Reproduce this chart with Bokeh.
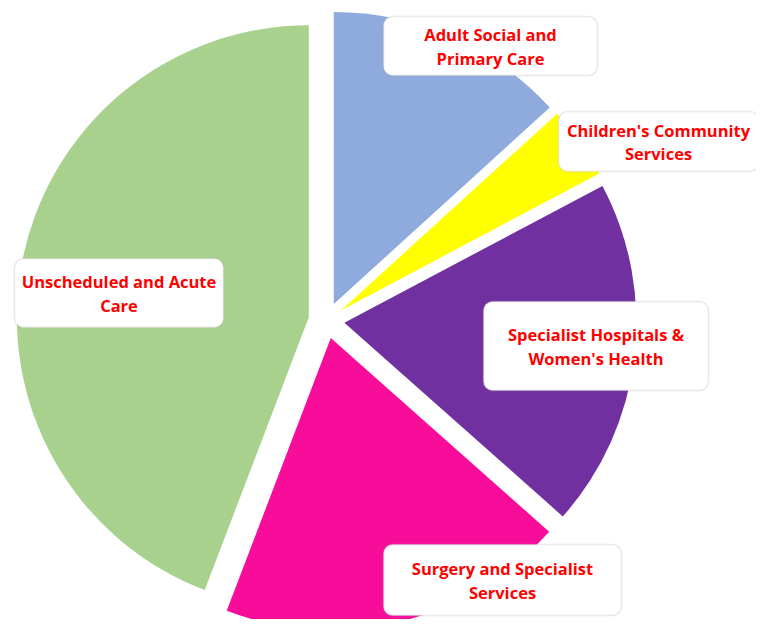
import math
from bokeh.plotting import figure
from bokeh.models import Range1d, BoxAnnotation
from bokeh.core.properties import value
from bokeh.embed import file_html
from bokeh.resources import INLINE

# ---- data ----
categories = [
    "Adult Social and\nPrimary Care",
    "Children's Community\nServices",
    "Specialist Hospitals &\nWomen's Health",
    "Surgery and Specialist\nServices",
    "Unscheduled and Acute\nCare",
]
shares = [13.25, 4.0, 19.3, 19.25, 44.2]
colors = ["#8FAADC", "#FFFF00", "#7030A0", "#F80C9A", "#A9D18E"]

# ---- layout (reference-pixel coordinates, y measured from top) ----
W, H = 756, 619
X0, Y0 = 0, 0
CX, CY = 326, 320                 # pie centre
R = 292                           # radius
EXPLODE = 18
label_boxes = [  # left, right, top, bottom
    (383, 597, 16, 75),
    (558, 758, 111, 171),
    (483, 708, 301, 390),
    (383, 621, 544, 615),
    (14, 223, 258, 327),
]

def fy(y):
    return (Y0 + H) - y  # convert top-down pixel to y-up data

p = figure(width=W, height=H, output_backend="svg", toolbar_location=None,
           x_range=Range1d(X0, X0 + W), y_range=Range1d(0, H),
           min_border=0, outline_line_color=None)
p.axis.visible = False
p.grid.visible = False
p.background_fill_color = "white"
p.border_fill_color = "white"

total = sum(shares)
cum = 0.0
xs, ys, starts, ends = [], [], [], []
for s in shares:
    a1 = cum / total * 360.0
    cum += s
    a2 = cum / total * 360.0
    bis = math.radians((a1 + a2) / 2)
    xs.append(CX + EXPLODE * math.sin(bis))
    ys.append(fy(CY) + EXPLODE * math.cos(bis))
    starts.append(math.radians(90 - a1))
    ends.append(math.radians(90 - a2))

p.wedge(x=xs, y=ys, radius=R, start_angle=starts, end_angle=ends,
        direction="clock", fill_color=colors, line_color=None)

tx, ty, tt = [], [], []
LINE_GAP = 23.5
for lab, (l, r, t, b) in zip(categories, label_boxes):
    p.add_layout(BoxAnnotation(left=l, right=r, top=fy(t), bottom=fy(b),
                               fill_color="white", fill_alpha=1.0,
                               line_color="#B5B5B5", line_width=1.5,
                               border_radius=9, level="annotation"))
    rows = lab.split("\n")
    mid = (t + b) / 2 + 0.5
    n = len(rows)
    for i, row in enumerate(rows):
        tx.append((l + r) / 2)
        ty.append(fy(mid + (i - (n - 1) / 2) * LINE_GAP))
        tt.append(row)

p.text(x=tx, y=ty, text=tt, text_align="center", text_baseline="middle",
       text_font=value("Open Sans"), text_font_style="bold",
       text_font_size="16.5px", text_color="#FF0000", level="overlay")

open("out.html", "w").write(file_html(p, INLINE))
